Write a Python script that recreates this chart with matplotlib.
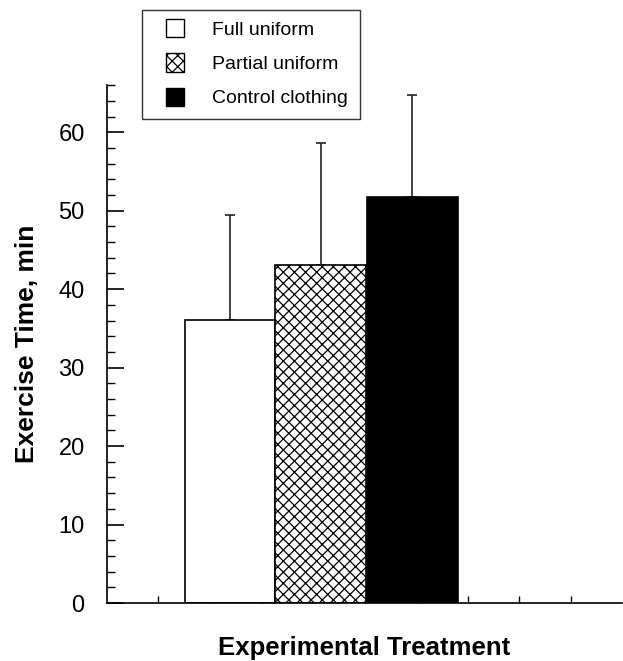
import matplotlib
matplotlib.use('Agg')
import matplotlib.pyplot as plt
from matplotlib.ticker import MultipleLocator
from matplotlib.patches import Patch, Rectangle
from matplotlib.legend_handler import HandlerPatch

plt.rcParams['font.family'] = ['Liberation Sans', 'DejaVu Sans']
plt.rcParams['hatch.linewidth'] = 0.9

# data
groups = ['Full uniform', 'Partial uniform', 'Control clothing']
means = [36.1, 43.1, 51.7]
sd = [13.3, 15.5, 13.0]
xpos = [2.39, 4.15, 5.93]
fills = ['white', 'white', 'black']
hatches = ['', 'xxx', '']


class SquareHandler(HandlerPatch):
    # small square centred in the handle box
    def create_artists(self, legend, orig, xdescent, ydescent, width, height, fontsize, trans):
        s = 13
        r = Rectangle((width / 2 - s / 2 - xdescent, height / 2 - s / 2 - ydescent), s, s,
                      facecolor=orig.get_facecolor(), edgecolor='black',
                      hatch=orig.get_hatch(), linewidth=1.0, transform=trans)
        return [r]


fig = plt.figure(figsize=(6.23, 6.61), dpi=100)
ax = fig.add_axes([0.1717, 0.0877, 0.827, 0.7835])

for x, m, e, c, h, lab in zip(xpos, means, sd, fills, hatches, groups):
    ax.errorbar(x, m, yerr=[[0], [e]], fmt='none', ecolor='#222222',
                elinewidth=1.2, capsize=3.5, capthick=1.2, zorder=1)
    ax.bar(x, m, width=1.76, color=c, edgecolor='black', hatch=h,
           linewidth=1.2, label=lab, zorder=2)

ax.set_xlim(0, 10)
ax.set_ylim(0, 66)
ax.spines['top'].set_visible(False)
ax.spines['right'].set_visible(False)
ax.spines['left'].set_linewidth(1.2)
ax.spines['bottom'].set_linewidth(1.2)

ax.yaxis.set_major_locator(MultipleLocator(10))
ax.yaxis.set_minor_locator(MultipleLocator(2))
ax.tick_params(axis='y', which='major', direction='in', length=12, width=1.2,
               labelsize=17, pad=16)
ax.tick_params(axis='y', which='minor', direction='in', length=6, width=1)
ax.set_xticks(range(1, 10))
ax.set_xticklabels([])
ax.tick_params(axis='x', which='major', direction='in', length=5, width=1)

ax.set_ylabel('Exercise Time, min', fontsize=19, fontweight='bold', labelpad=14)
ax.set_xlabel('Experimental Treatment', fontsize=18.5, fontweight='bold', labelpad=20)

handles = [Patch(facecolor=c, edgecolor='black', hatch=h) for c, h in zip(fills, hatches)]
leg = fig.legend(handles, groups, loc='upper left', bbox_to_anchor=(0.228, 0.985),
                 fontsize=14, frameon=True, fancybox=False, edgecolor='black',
                 handlelength=2.2, handleheight=0.7, handletextpad=0.8,
                 borderpad=0.6, labelspacing=0.85, borderaxespad=0,
                 handler_map={Patch: SquareHandler()})
leg.get_frame().set_linewidth(1.0)

fig.savefig('out.png', dpi=100)
